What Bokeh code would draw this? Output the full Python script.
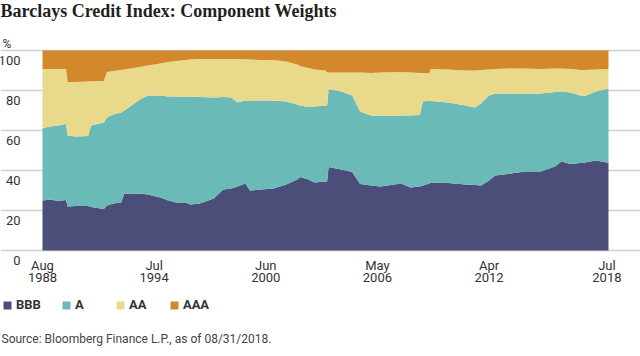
import pandas as pd
from bokeh.plotting import figure
from bokeh.core.properties import value
from bokeh.models import (ColumnDataSource, Range1d, FixedTicker, Legend, LegendItem,
                          LabelSet, Label)
from bokeh.embed import file_html
from bokeh.resources import INLINE

# ---------------- data ----------------
dates = ["1988-08", "1989-01", "1989-06", "1989-11", "1989-12", "1990-05", "1991-01", "1991-03",
         "1991-11", "1992-01", "1992-05", "1992-10", "1992-12", "1993-06", "1993-10", "1994-03",
         "1994-11", "1995-04", "1995-09", "1996-03", "1996-06", "1996-12", "1997-09", "1998-03",
         "1998-08", "1998-12", "1999-05", "1999-08", "2000-03", "2000-11", "2001-07", "2002-02",
         "2002-04", "2002-09", "2003-01", "2003-08", "2003-09", "2003-10", "2004-06", "2005-01",
         "2005-06", "2006-01", "2006-07", "2007-08", "2008-02", "2008-08", "2008-10", "2009-02",
         "2009-03", "2010-02", "2011-01", "2011-07", "2011-11", "2012-04", "2012-08", "2013-06",
         "2014-03", "2015-01", "2015-10", "2016-02", "2016-08", "2017-02", "2017-05", "2017-12",
         "2018-07", "2018-08"]
bbb = [25.0, 25.5, 24.8, 25.3, 22.0, 22.3, 22.3, 21.8, 20.8, 22.5, 23.5, 24.0, 28.5, 28.3, 28.5, 28.0,
       26.5, 25.0, 24.0, 24.0, 23.0, 23.5, 26.0, 30.5, 31.0, 32.0, 33.5, 30.0, 30.5, 31.0, 33.0, 35.5,
       36.7, 35.5, 34.0, 34.5, 34.5, 41.7, 40.5, 39.2, 33.3, 32.5, 32.0, 33.5, 31.5, 32.0, 32.5, 33.5,
       34.0, 33.8, 33.0, 32.8, 32.5, 35.0, 37.5, 38.5, 39.5, 39.5, 42.0, 44.5, 43.3, 43.8, 44.0, 45.0,
       44.0, 44.0]
a = [36.2, 36.5, 37.7, 38.0, 35.5, 34.7, 34.9, 40.7, 43.2, 44.0, 44.5, 45.0, 41.5, 45.0, 47.0, 49.5,
     51.0, 52.0, 53.0, 52.7, 54.0, 53.2, 50.5, 46.3, 45.5, 42.0, 41.5, 45.0, 44.5, 44.0, 41.5, 37.5,
     35.8, 36.2, 38.0, 38.0, 38.0, 39.1, 39.0, 38.3, 36.2, 35.0, 35.3, 34.0, 36.0, 35.8, 42.0, 41.5,
     40.8, 40.2, 39.5, 38.7, 41.0, 42.5, 41.0, 40.0, 38.8, 39.0, 37.3, 35.0, 35.7, 33.7, 33.3, 34.5,
     36.8, 36.8]
aa = [29.6, 28.8, 28.3, 27.5, 26.7, 27.3, 27.3, 22.1, 20.8, 22.7, 21.8, 21.3, 20.5, 18.0, 16.2, 15.0,
      16.0, 17.2, 17.8, 18.5, 18.5, 19.0, 19.3, 19.0, 19.3, 21.7, 20.6, 20.5, 20.3, 20.2, 20.0, 20.0,
      19.7, 19.6, 18.5, 17.5, 16.5, 8.2, 9.5, 11.5, 19.5, 21.3, 21.7, 21.7, 21.5, 21.0, 14.3, 13.8,
      16.0, 16.5, 17.5, 18.5, 16.7, 13.0, 12.3, 12.5, 12.7, 12.3, 11.7, 11.5, 11.8, 12.8, 12.9, 11.0,
      10.0, 10.0]
aaa = [9.2, 9.2, 9.2, 9.2, 15.8, 15.7, 15.5, 15.4, 15.2, 10.8, 10.2, 9.7, 9.5, 8.7, 8.3, 7.5,
       6.5, 5.8, 5.2, 4.8, 4.5, 4.3, 4.2, 4.2, 4.2, 4.3, 4.4, 4.5, 4.7, 4.8, 5.5, 7.0,
       7.8, 8.7, 9.5, 10.0, 11.0, 11.0, 11.0, 11.0, 11.0, 11.2, 11.0, 10.8, 11.0, 11.2, 11.2, 11.2,
       9.2, 9.5, 10.0, 10.0, 9.8, 9.5, 9.2, 9.0, 9.0, 9.2, 9.0, 9.0, 9.2, 9.7, 9.8, 9.5,
       9.2, 9.2]
series_names = ["BBB", "A", "AA", "AAA"]
colors = ["#4b4e79", "#6abbb7", "#e8d98b", "#d3892b"]

y_ticks = [0, 20, 40, 60, 80, 100]
y_tick_labels = ["0", "20", "40", "60", "80", "100"]
x_tick_dates = ["1988-08", "1994-07", "2000-06", "2006-05", "2012-04", "2018-07"]
x_tick_months = ["Aug", "Jul", "Jun", "May", "Apr", "Jul"]
x_tick_years = ["1988", "1994", "2000", "2006", "2012", "2018"]

title_text = "Barclays Credit Index: Component Weights"
unit_text = "%"
source_text = "Source: Bloomberg Finance L.P., as of 08/31/2018."


def month_index(s):
    y, m = map(int, s.split("-"))
    return (y - 1988) * 12 + (m - 8)


# ---------------- layout ----------------
FW, FH = 640, 354           # one frame covering the whole page
PLOT_TOP = 50               # pixel row of the 100% line
PX_PER_UNIT = 2.0           # 2 px per percentage point
data_left_px, data_right_px = 42, 608
px_per_month = (data_right_px - data_left_px) / 360
x_start = -data_left_px / px_per_month
x_end = 360 + (FW - data_right_px) / px_per_month
y_end = 100 + PLOT_TOP / PX_PER_UNIT
y_start = 100 - (FH - PLOT_TOP) / PX_PER_UNIT

source = ColumnDataSource(dict(m=[month_index(d) for d in dates],
                               BBB=bbb, A=a, AA=aa, AAA=aaa))

FONT = "Roboto"
SANS = value(FONT)
TXT = "#333333"

p = figure(frame_width=FW, frame_height=FH, output_backend="svg", toolbar_location=None,
           x_range=Range1d(x_start, x_end), y_range=Range1d(y_start, y_end),
           x_axis_location=None, y_axis_location=None, title=None,
           min_border_left=0, min_border_right=0, min_border_top=0, min_border_bottom=0)
p.outline_line_color = None
p.background_fill_color = "white"
p.border_fill_color = "white"

# grid
p.xgrid.visible = False
p.ygrid.ticker = FixedTicker(ticks=y_ticks)
p.ygrid.grid_line_color = "#cfcfcf"
p.ygrid.grid_line_width = 1.5

# stacked areas
renderers = p.varea_stack(stackers=series_names, x="m", color=colors, source=source)

# x tick labels, placed through the x scale just under the 0 line
x_ticks = [month_index(d) for d in x_tick_dates]
xsrc = ColumnDataSource(dict(x=x_ticks, y=[0] * len(x_ticks), mo=x_tick_months, yr=x_tick_years))
p.add_layout(LabelSet(x="x", y="y", text="mo", source=xsrc, text_align="center",
                      text_baseline="top", y_offset=-7, text_font=SANS,
                      text_font_size="13px", text_color=TXT))
p.add_layout(LabelSet(x="x", y="y", text="yr", source=xsrc, text_align="center",
                      text_baseline="top", y_offset=-22, text_font=SANS,
                      text_font_size="13px", text_color=TXT))

# y tick labels (sit just below each gridline)
label_x = x_start + 20 / px_per_month
ysrc = ColumnDataSource(dict(x=[label_x] * len(y_ticks), y=y_ticks, t=y_tick_labels))
p.add_layout(LabelSet(x="x", y="y", text="t", source=ysrc, text_align="right",
                      text_baseline="middle", y_offset=-10, text_font=SANS,
                      text_font_size="13px", text_color=TXT))

# title and unit
p.add_layout(Label(x=0, y=FH, x_units="screen", y_units="screen", text=title_text,
                   text_font="Liberation Serif", text_font_size="18px",
                   text_font_style="bold", text_color="#231f20", text_baseline="top"))
p.add_layout(Label(x=2, y=FH - 43, x_units="screen", y_units="screen", text=unit_text,
                   text_font=FONT, text_font_size="12px", text_color=TXT,
                   text_baseline="alphabetic"))

# legend (inside the lower part of the frame)
legend = Legend(items=[LegendItem(label=n, renderers=[r]) for n, r in zip(series_names, renderers)],
                orientation="horizontal", location=(2, 42),
                label_text_font=FONT, label_text_font_size="13px",
                label_text_font_style="bold", label_text_color=TXT,
                glyph_width=10, glyph_height=10, label_standoff=4, spacing=20,
                padding=0, margin=0, border_line_color=None, background_fill_alpha=0,
                label_height=14)
p.add_layout(legend)

p.add_layout(Label(x=1, y=9, x_units="screen", y_units="screen", text=source_text,
                   text_font=FONT, text_font_size="12px", text_color="#444444",
                   text_baseline="bottom"))

open("out.html", "w").write(file_html(p, INLINE))
